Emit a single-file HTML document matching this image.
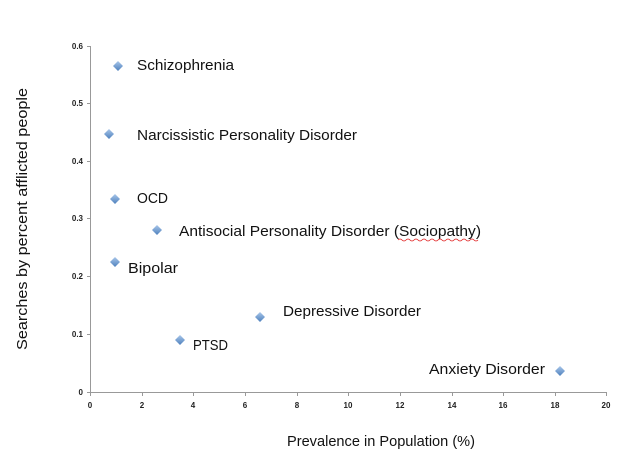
<!DOCTYPE html>
<html><head><meta charset="utf-8"><style>
body{margin:0;background:#fff;}
svg text{font-family:"Liberation Sans",sans-serif;}
</style></head><body>
<svg width="639" height="462" xmlns="http://www.w3.org/2000/svg">
<defs><linearGradient id="g" x1="0" y1="0" x2="0" y2="1"><stop offset="0" stop-color="#a9c6ea"/><stop offset="1" stop-color="#4f81bd"/></linearGradient></defs>
<g stroke="#999" stroke-width="1" fill="none">
<line x1="90.5" y1="46" x2="90.5" y2="392"/>
<line x1="90" y1="392.5" x2="607" y2="392.5"/>
<path d="M87 46.5h4M87 103.5h4M87 161.5h4M87 218.5h4M87 276.5h4M87 334.5h4M87 392.5h4"/>
<path d="M90.5 392v4M142.5 392v4M193.5 392v4M245.5 392v4M297.5 392v4M348.5 392v4M400.5 392v4M452.5 392v4M503.5 392v4M555.5 392v4M606.5 392v4"/>
</g>
<g font-size="8" fill="#222" font-weight="bold" text-anchor="end">
<text x="83" y="49">0.6</text><text x="83" y="106">0.5</text><text x="83" y="164">0.4</text><text x="83" y="221">0.3</text><text x="83" y="279">0.2</text><text x="83" y="337">0.1</text><text x="83" y="395">0</text>
</g>
<g font-size="8" fill="#222" font-weight="bold" text-anchor="middle">
<text x="90" y="408">0</text><text x="142" y="408">2</text><text x="193" y="408">4</text><text x="245" y="408">6</text><text x="297" y="408">8</text><text x="348" y="408">10</text><text x="400" y="408">12</text><text x="452" y="408">14</text><text x="503" y="408">16</text><text x="555" y="408">18</text><text x="606" y="408">20</text>
</g>
<g fill="url(#g)">
<path d="M118 61l5 5-5 5-5-5z"/>
<path d="M109 129l5 5-5 5-5-5z"/>
<path d="M115 194l5 5-5 5-5-5z"/>
<path d="M157 225l5 5-5 5-5-5z"/>
<path d="M115 257l5 5-5 5-5-5z"/>
<path d="M260 312l5 5-5 5-5-5z"/>
<path d="M180 335l5 5-5 5-5-5z"/>
<path d="M560 366l5 5-5 5-5-5z"/>
</g>
<g font-size="15" fill="#111">
<text x="137" y="70" textLength="97" lengthAdjust="spacingAndGlyphs">Schizophrenia</text>
<text x="137" y="140" textLength="220" lengthAdjust="spacingAndGlyphs">Narcissistic Personality Disorder</text>
<text x="137" y="203" textLength="31" lengthAdjust="spacingAndGlyphs">OCD</text>
<text x="179" y="236" textLength="302" lengthAdjust="spacingAndGlyphs">Antisocial Personality Disorder (Sociopathy)</text>
<text x="128" y="273" textLength="50" lengthAdjust="spacingAndGlyphs">Bipolar</text>
<text x="283" y="316" textLength="138" lengthAdjust="spacingAndGlyphs">Depressive Disorder</text>
<text x="193" y="350" textLength="35" lengthAdjust="spacingAndGlyphs">PTSD</text>
<text x="429" y="374" textLength="116" lengthAdjust="spacingAndGlyphs">Anxiety Disorder</text>
</g>
<path d="M398 240q2-2 4 0t4 0t4 0t4 0t4 0t4 0t4 0t4 0t4 0t4 0t4 0t4 0t4 0t4 0t4 0t4 0t4 0t4 0t4 0t4 0" stroke="#e02020" stroke-width="0.8" fill="none"/>
<text x="287" y="446" font-size="15" fill="#111" textLength="188" lengthAdjust="spacingAndGlyphs">Prevalence in Population (%)</text>
<text transform="translate(27,350) rotate(-90)" font-size="15" fill="#111" textLength="262" lengthAdjust="spacingAndGlyphs">Searches by percent afflicted people</text>
</svg>
</body></html>
